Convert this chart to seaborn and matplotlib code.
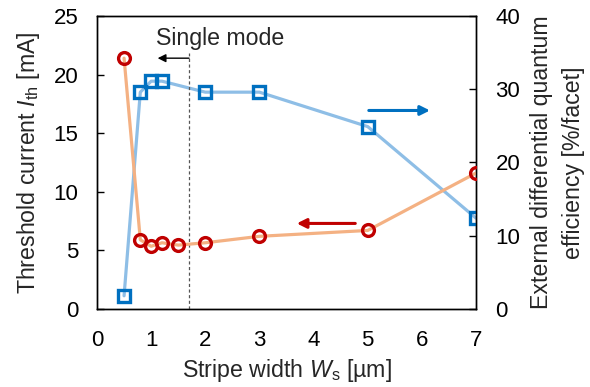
import matplotlib
matplotlib.use("Agg")
import matplotlib.pyplot as plt
import seaborn as sns
import pandas as pd

# Data
width_ith = [0.5, 0.8, 1.0, 1.2, 1.5, 2.0, 3.0, 5.0, 7.0]
ith_mA = [21.4, 5.9, 5.35, 5.65, 5.45, 5.65, 6.2, 6.7, 11.6]
width_eff = [0.5, 0.8, 1.0, 1.2, 2.0, 3.0, 5.0, 7.0]
eff_pct = [1.8, 29.6, 31.1, 31.1, 29.6, 29.6, 24.9, 12.4]
x_ticks = [0, 1, 2, 3, 4, 5, 6, 7]
left_ticks = [0, 5, 10, 15, 20, 25]
right_ticks = [0, 10, 20, 30, 40]
single_mode_limit = 1.7

sns.set_theme(style="white")
plt.rcParams['font.family'] = ['Liberation Sans', 'DejaVu Sans']
plt.rcParams['mathtext.fontset'] = 'custom'
plt.rcParams['mathtext.it'] = 'Liberation Sans:italic'
plt.rcParams['mathtext.rm'] = 'Liberation Sans'

df1 = pd.DataFrame({"w": width_ith, "ith": ith_mA})
df2 = pd.DataFrame({"w": width_eff, "eff": eff_pct})

fig = plt.figure(figsize=(5.9, 3.87), dpi=100)
ax = fig.add_axes([0.1644, 0.2016, 0.6424, 0.7571])
ax2 = ax.twinx()

red_line = "#F4B183"
red_mark = "#C00000"
blue_line = "#8EBEE6"
blue_mark = "#0070C0"

LBL = 16.7

# blue series (right axis)
sns.lineplot(data=df2, x="w", y="eff", ax=ax2, color=blue_line, lw=2.3, zorder=2)
ax2.plot(width_eff, eff_pct, ls='none', marker='s', ms=8, mfc='none',
         mec=blue_mark, mew=2.4, zorder=3)
# red series (left axis)
sns.lineplot(data=df1, x="w", y="ith", ax=ax, color=red_line, lw=2.3, zorder=2)
ax.plot(width_ith, ith_mA, ls='none', marker='o', ms=8.5, mfc='none',
        mec=red_mark, mew=2.4, zorder=3)

ax.set_xlim(0, 7)
ax.set_ylim(0, 25)
ax2.set_ylim(0, 40)
ax.set_xticks(x_ticks)
ax.set_yticks(left_ticks)
ax2.set_yticks(right_ticks)

for a in (ax, ax2):
    for s in a.spines.values():
        s.set_color('black')
        s.set_linewidth(1.0)
ax.tick_params(axis='x', direction='in', length=5, width=1, labelsize=16,
               colors='black', pad=15)
ax.tick_params(axis='y', direction='in', length=5, width=1, labelsize=16,
               colors='black', pad=13.5)
ax2.tick_params(axis='y', direction='in', length=5, width=1, labelsize=16,
                colors='black', pad=14)

ax.set_xlabel(r"Stripe width $\mathit{W}_{\mathrm{s}}$ [µm]", fontsize=LBL, labelpad=4.5)
ax.set_ylabel(r"Threshold current $\mathit{I}_{\mathrm{th}}$ [mA]", fontsize=LBL, labelpad=8)
ax2.set_ylabel("External differential quantum\nefficiency [%/facet]", fontsize=LBL,
               labelpad=7, linespacing=1.5)

# dashed single mode line
ax.plot([single_mode_limit, single_mode_limit], [0, 21.8], ls=(0, (2.5, 2)),
        color='#555555', lw=0.9, zorder=1)
ax.annotate("", xy=(1.12, 21.4), xytext=(single_mode_limit, 21.4),
            arrowprops=dict(arrowstyle='-|>', color='black', lw=1.0,
                            mutation_scale=12, shrinkA=0, shrinkB=0))
ax.text(2.27, 23.1, "Single mode", fontsize=LBL, ha='center', va='center')

# series arrows
ax.annotate("", xy=(3.69, 7.3), xytext=(4.77, 7.3),
            arrowprops=dict(arrowstyle='-|>', color=red_mark, lw=2.2,
                            mutation_scale=14, shrinkA=0, shrinkB=0))
ax2.annotate("", xy=(6.15, 27.1), xytext=(5.02, 27.1),
             arrowprops=dict(arrowstyle='-|>', color=blue_mark, lw=2.2,
                             mutation_scale=14, shrinkA=0, shrinkB=0))

ax.set_zorder(ax2.get_zorder() + 1)
ax.patch.set_visible(False)

fig.savefig("out.png", dpi=100)
